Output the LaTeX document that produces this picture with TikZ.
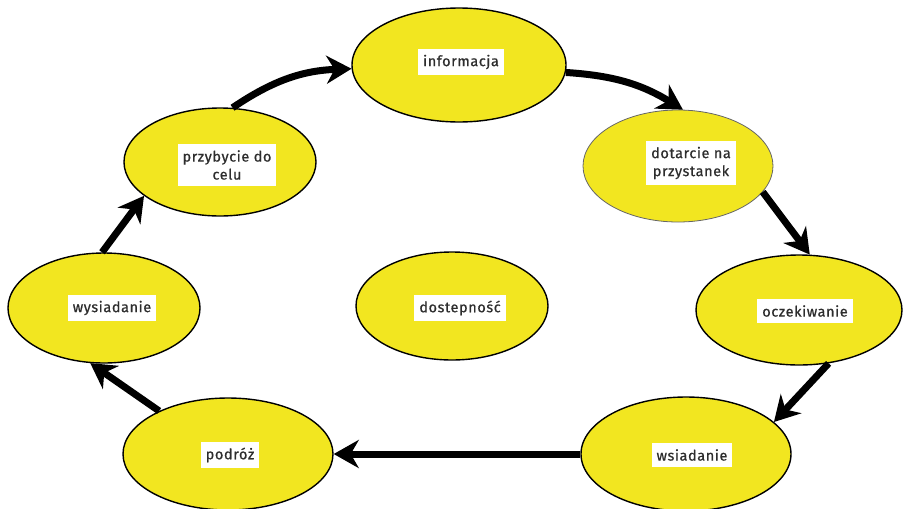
\documentclass[tikz,border=0pt]{standalone}
\usepackage{fontspec}
\setmainfont{Fira Sans}[LetterSpace=4, FakeBold=0.7]
\usetikzlibrary{shapes.geometric, arrows.meta}
\definecolor{stageyellow}{RGB}{242,230,32}
\definecolor{tagtext}{RGB}{45,45,45}
\begin{document}
\begin{tikzpicture}[x=1pt, y=-1pt,
        stage/.style={ellipse, draw=black, line width=1.4pt, fill=stageyellow, inner sep=0pt},
        tag/.style={fill=white, inner xsep=5pt, inner ysep=6pt, align=center, text=tagtext, font=\fontsize{14.5}{18}\selectfont},
        flow/.style={line width=7pt, -{Stealth[length=25pt, width=28pt, inset=8pt]}}]
        \useasboundingbox (0, 0) rectangle (906, 509);
        % the stages round the circle
        \node[stage, minimum width=214pt, minimum height=114pt] (info) at (459, 65) {};
        \node[stage, minimum width=190pt, minimum height=112pt, draw=black!60, line width=0.8pt] (dot) at (678, 166) {};
        \node[stage, minimum width=206pt, minimum height=110pt] (ocz) at (799, 310) {};
        \node[stage, minimum width=210pt, minimum height=114pt] (wsi) at (686, 454) {};
        \node[stage, minimum width=210pt, minimum height=112pt] (pod) at (228, 454) {};
        \node[stage, minimum width=192pt, minimum height=110pt] (wys) at (104, 308) {};
        \node[stage, minimum width=192pt, minimum height=108pt] (przy) at (220, 162) {};
        \node[stage, minimum width=192pt, minimum height=108pt] (dost) at (452, 306) {};
        % labels
        \node[tag] (info-t) at (461, 62) {informacja};
        \node[tag] (dot-t) at (691, 163) {dotarcie na\\przystanek};
        \node[tag] (ocz-t) at (805, 311) {oczekiwanie};
        \node[tag] (wsi-t) at (692, 455) {wsiadanie};
        \node[tag] (pod-t) at (230, 455) {podróż};
        \node[tag] (wys-t) at (112, 308) {wysiadanie};
        \node[tag] (przy-t) at (227, 165) {przybycie do\\celu};
        \node[tag] (dost-t) at (460, 308) {dostepność};
        % arrows
        \draw[flow] (przy.77) to[bend left=16] (info.182);
        \draw[flow] (info.-4) to[bend left=14] (dot.85);
        \draw[flow] (dot.-17) -- (ocz.79);
        \draw[flow] (ocz.-61) -- (wsi.20);
        \draw[flow] (wsi.west) -- (pod.east);
        \draw[flow] (pod.148) -- (wys.-104);
        \draw[flow] (wys.92) -- (przy.204);
    \end{tikzpicture}
\end{document}
